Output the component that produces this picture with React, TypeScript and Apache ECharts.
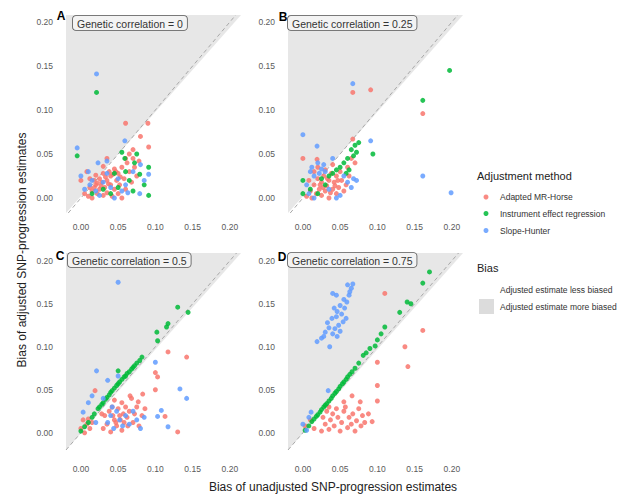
import React, { useEffect, useRef } from "react";
import * as echarts from "echarts";

const methods = ["Adapted MR-Horse", "Instrument effect regression", "Slope-Hunter"];
const methodColors = ["#F8766D", "#00BA38", "#619CFF"];
const panelLetters = ["A", "B", "C", "D"];
const panelTitles = [
  "Genetic correlation = 0",
  "Genetic correlation = 0.25",
  "Genetic correlation = 0.5",
  "Genetic correlation = 0.75",
];
const tickValues = [0, 0.05, 0.1, 0.15, 0.2];

// Panel A (genetic correlation = 0)
const horseA = [
  [0.005, 0.005], [0.01, 0.002], [0.012, 0.012], [0.015, 0.008], [0.018, 0.02], [0.02, 0.015],
  [0.022, 0.005], [0.025, 0.01], [0.025, 0.022], [0.028, 0.018], [0.03, 0.003], [0.03, 0.028],
  [0.032, 0.012], [0.035, 0.02], [0.035, 0.006], [0.038, 0.03], [0.04, 0.015], [0.04, 0.025],
  [0.042, 0.002], [0.045, 0.01], [0.045, 0.033], [0.048, 0.02], [0.05, 0.028], [0.05, 0.005],
  [0.052, 0.015], [0.055, 0.035], [0.058, 0.022], [0.06, 0.01], [0.062, 0.04], [0.065, 0.03],
  [0.068, 0.018], [0.07, 0.045], [0.072, 0.035], [0.075, 0.025], [0.078, 0.042], [0.08, 0.07],
  [0.06, 0.085], [0.09, 0.085], [0.091, 0.058], [0.035, 0.045], [0.0, 0.02], [0.008, 0.03],
  [0.015, 0.0], [0.055, 0.0], [0.065, 0.05], [0.018, 0.012], [0.022, 0.017], [0.027, 0.014],
  [0.033, 0.024], [0.037, 0.016], [0.043, 0.027], [0.047, 0.03], [0.053, 0.024], [0.02, 0.026],
  [0.012, 0.022], [0.03, 0.036], [0.06, 0.045], [0.07, 0.055],
];
const iverA = [
  [-0.005, 0.048], [0.021, 0.12], [0.091, 0.003], [0.091, 0.035], [0.079, 0.027], [0.059, 0.045],
  [0.072, 0.04], [0.065, 0.02], [0.06, 0.03], [0.05, 0.012], [0.04, 0.005], [0.085, 0.015],
  [0.07, 0.008], [0.045, 0.028], [0.055, 0.052], [0.03, 0.01], [0.015, 0.005], [0.075, 0.05],
];
const slopeA = [
  [0.021, 0.141], [-0.005, 0.057], [0.059, 0.065], [0.091, 0.027], [0.079, 0.005], [0.063, 0.006],
  [0.023, 0.04], [0.035, 0.042], [0.0, 0.025], [0.005, 0.01], [0.01, 0.03], [0.015, 0.02],
  [0.02, 0.008], [0.025, 0.003], [0.03, 0.018], [0.04, 0.012], [0.045, 0.0], [0.05, 0.022],
  [0.055, 0.008], [0.06, 0.015], [0.07, 0.03], [0.08, 0.038], [0.085, 0.02], [0.012, 0.015],
  [0.035, 0.028],
];

// Panel B (genetic correlation = 0.25)
const horseB = [
  [0.0, 0.045], [0.019, 0.044], [0.067, 0.12], [0.091, 0.123], [0.161, 0.096], [0.067, 0.067],
  [0.07, 0.04], [0.005, 0.002], [0.01, 0.008], [0.012, 0.0], [0.015, 0.015], [0.018, 0.005],
  [0.02, 0.022], [0.022, 0.01], [0.025, 0.003], [0.025, 0.018], [0.028, 0.025], [0.03, 0.008],
  [0.032, 0.014], [0.035, 0.02], [0.035, 0.0], [0.038, 0.028], [0.04, 0.01], [0.042, 0.018],
  [0.045, 0.005], [0.045, 0.025], [0.048, 0.012], [0.05, 0.03], [0.052, 0.02], [0.055, 0.008],
  [0.058, 0.015], [0.015, 0.03], [0.02, 0.035], [0.03, 0.032], [0.06, 0.035], [0.065, 0.045],
  [0.062, 0.025], [0.04, 0.038], [0.008, 0.02], [0.027, 0.012], [0.033, 0.022], [0.037, 0.006],
  [0.043, 0.014], [0.047, 0.02], [0.023, 0.015],
];
const iverB = [
  [0.0, 0.02], [0.0, 0.005], [0.094, 0.05], [0.161, 0.111], [0.197, 0.145], [0.065, 0.055],
  [0.07, 0.06], [0.075, 0.063], [0.068, 0.048], [0.072, 0.052], [0.06, 0.045], [0.055, 0.04],
  [0.05, 0.035], [0.045, 0.032], [0.04, 0.028], [0.035, 0.025], [0.01, 0.01], [0.02, 0.005],
  [0.03, 0.015], [0.025, 0.022], [0.058, 0.028], [0.062, 0.032],
];
const slopeB = [
  [0.0, 0.072], [0.019, 0.059], [0.067, 0.13], [0.161, 0.025], [0.199, 0.006], [0.091, 0.065],
  [0.072, 0.02], [0.01, 0.03], [0.012, 0.035], [0.015, 0.025], [0.02, 0.04], [0.022, 0.028],
  [0.025, 0.033], [0.005, 0.015], [0.008, 0.005], [0.015, 0.0], [0.03, 0.03], [0.035, 0.01],
  [0.045, 0.0], [0.05, 0.003], [0.055, 0.025], [0.06, 0.018], [0.065, 0.012], [0.068, 0.022],
  [0.04, 0.045], [0.028, 0.038],
];

// Panel C (genetic correlation = 0.5)
const horseC = [
  [0.0, 0.005], [0.003, 0.015], [0.005, 0.0], [0.008, 0.01], [0.01, 0.016], [0.012, 0.005],
  [0.015, 0.012], [0.019, 0.049], [0.028, 0.022], [0.03, 0.005], [0.032, 0.02], [0.035, 0.01],
  [0.038, 0.025], [0.04, 0.001], [0.042, 0.03], [0.045, 0.015], [0.048, 0.008], [0.05, 0.028],
  [0.052, 0.02], [0.055, 0.003], [0.058, 0.012], [0.06, 0.03], [0.062, 0.018], [0.065, 0.025],
  [0.068, 0.04], [0.07, 0.012], [0.072, 0.022], [0.075, 0.03], [0.078, 0.008], [0.082, 0.02],
  [0.086, 0.028], [0.083, 0.045], [0.066, 0.043], [0.077, 0.036], [0.103, 0.065], [0.1, 0.07],
  [0.1, 0.05], [0.117, 0.094], [0.142, 0.088], [0.13, 0.001], [0.113, 0.019], [0.045, 0.038],
  [0.055, 0.035], [0.043, 0.02], [0.047, 0.012], [0.053, 0.015], [0.057, 0.022], [0.063, 0.008],
];
const iverC = [
  [0.0, 0.002], [0.005, 0.007], [0.01, 0.012], [0.015, 0.018], [0.018, 0.022], [0.023, 0.028],
  [0.025, 0.03], [0.028, 0.033], [0.03, 0.035], [0.033, 0.039], [0.035, 0.041], [0.038, 0.044],
  [0.04, 0.047], [0.042, 0.049], [0.045, 0.052], [0.048, 0.055], [0.05, 0.057], [0.052, 0.059],
  [0.055, 0.062], [0.058, 0.065], [0.06, 0.066], [0.062, 0.069], [0.065, 0.071], [0.068, 0.074],
  [0.07, 0.076], [0.072, 0.078], [0.075, 0.081], [0.079, 0.084], [0.082, 0.088], [0.05, 0.072],
  [0.102, 0.117], [0.103, 0.107], [0.115, 0.123], [0.117, 0.127], [0.13, 0.146], [0.144, 0.14],
];
const slopeC = [
  [0.05, 0.175], [0.021, 0.072], [0.036, 0.061], [0.05, 0.066], [0.015, 0.043], [0.03, 0.04],
  [0.003, 0.024], [0.1, 0.082], [0.133, 0.051], [0.142, 0.04], [0.103, 0.019], [0.108, 0.026],
  [0.117, 0.007], [0.036, 0.012], [0.04, 0.02], [0.044, 0.005], [0.048, 0.025], [0.052, 0.015],
  [0.056, 0.008], [0.06, 0.02], [0.065, 0.01], [0.07, 0.025], [0.075, 0.015], [0.08, 0.005],
  [0.085, 0.018], [0.042, 0.03], [0.01, 0.035], [0.02, 0.012],
];

// Panel D (genetic correlation = 0.75)
const horseD = [
  [0.11, 0.162], [0.161, 0.119], [0.137, 0.1], [0.141, 0.077], [0.1, 0.082], [0.1, 0.055],
  [0.1, 0.037], [0.093, 0.013], [0.066, 0.043], [0.077, 0.036], [0.003, 0.008], [0.01, 0.015],
  [0.015, 0.005], [0.025, 0.002], [0.027, 0.018], [0.03, 0.01], [0.032, 0.025], [0.035, 0.004],
  [0.037, 0.015], [0.04, 0.022], [0.042, 0.008], [0.045, 0.028], [0.047, 0.018], [0.05, 0.002],
  [0.052, 0.012], [0.055, 0.025], [0.057, 0.03], [0.06, 0.006], [0.062, 0.018], [0.065, 0.01],
  [0.067, 0.022], [0.07, 0.002], [0.072, 0.014], [0.075, 0.028], [0.078, 0.008], [0.08, 0.02],
  [0.083, 0.012], [0.088, 0.022], [0.035, 0.03], [0.055, 0.036],
];
const iverD = [
  [0.003, 0.003], [0.008, 0.008], [0.012, 0.013], [0.015, 0.016], [0.018, 0.019], [0.02, 0.021],
  [0.023, 0.024], [0.025, 0.027], [0.028, 0.03], [0.03, 0.032], [0.032, 0.034], [0.035, 0.037],
  [0.038, 0.04], [0.04, 0.043], [0.043, 0.046], [0.045, 0.048], [0.048, 0.051], [0.05, 0.054],
  [0.053, 0.057], [0.055, 0.059], [0.058, 0.062], [0.06, 0.065], [0.063, 0.068], [0.066, 0.071],
  [0.07, 0.075], [0.075, 0.081], [0.081, 0.09], [0.085, 0.093], [0.09, 0.098], [0.097, 0.101],
  [0.1, 0.108], [0.105, 0.115], [0.11, 0.123], [0.13, 0.14], [0.14, 0.152], [0.145, 0.15],
  [0.161, 0.174], [0.17, 0.187],
];
const slopeD = [
  [0.067, 0.173], [0.065, 0.168], [0.062, 0.16], [0.06, 0.172], [0.04, 0.162], [0.045, 0.16],
  [0.063, 0.164], [0.059, 0.152], [0.055, 0.155], [0.05, 0.148], [0.046, 0.141], [0.052, 0.138],
  [0.039, 0.133], [0.045, 0.135], [0.054, 0.129], [0.058, 0.133], [0.043, 0.121], [0.048, 0.125],
  [0.03, 0.117], [0.035, 0.122], [0.04, 0.115], [0.019, 0.106], [0.025, 0.11], [0.036, 0.1],
  [0.046, 0.112], [0.05, 0.118], [0.033, 0.128], [0.042, 0.145], [0.056, 0.145], [0.028, 0.112],
  [0.034, 0.049], [0.011, 0.024], [0.0, 0.01], [0.005, 0.003], [0.008, 0.018],
];

const panelData = [
  [horseA, iverA, slopeA],
  [horseB, iverB, slopeB],
  [horseC, iverC, slopeC],
  [horseD, iverD, slopeD],
];

const xRange = [-0.02, 0.215];
const yRangeTop = [-0.017, 0.208];
const yRangeBottom = [-0.02, 0.209];

const FONT = "'Liberation Sans', Arial, Helvetica, sans-serif";

export default function App() {
  const ref = useRef<HTMLDivElement>(null);

  useEffect(() => {
    if (!ref.current) return;
    const chart = echarts.init(ref.current, null, { renderer: "svg" });

    const grids = [
      { left: 66, top: 15, width: 175, height: 198 },
      { left: 288, top: 15, width: 175, height: 198 },
      { left: 66, top: 253, width: 175, height: 197 },
      { left: 288, top: 253, width: 175, height: 197 },
    ];
    const yRanges = [yRangeTop, yRangeTop, yRangeBottom, yRangeBottom];

    const labelStyle = { color: "#5a5a5a", fontSize: 8.5, fontFamily: FONT };

    const xAxes = grids.map((_, i) => ({
      type: "value",
      gridIndex: i,
      min: xRange[0],
      max: xRange[1],
      axisLine: { show: false },
      axisTick: { show: false },
      splitLine: { show: false },
      axisLabel: {
        ...labelStyle,
        margin: i < 2 ? 9 : 14,
        customValues: tickValues,
        formatter: (v: number) => v.toFixed(2),
      },
    }));
    const yAxes = grids.map((_, i) => ({
      type: "value",
      gridIndex: i,
      min: yRanges[i][0],
      max: yRanges[i][1],
      axisLine: { show: false },
      axisTick: { show: false },
      splitLine: { show: false },
      axisLabel: {
        ...labelStyle,
        margin: 13,
        customValues: tickValues,
        formatter: (v: number) => v.toFixed(2),
      },
    }));

    const series: any[] = [];
    grids.forEach((_, i) => {
      const yr = yRanges[i];
      series.push({
        type: "custom",
        name: "Adjusted estimate more biased",
        xAxisIndex: i,
        yAxisIndex: i,
        silent: true,
        z: 0,
        clip: false,
        data: [[xRange[0], yr[0]]],
        renderItem: (_p: any, api: any) => {
          const p1 = api.coord([xRange[0], yr[0]]);
          const p2 = api.coord([xRange[1], yr[1]]);
          const p3 = api.coord([xRange[0], yr[1]]);
          return {
            type: "polygon",
            shape: { points: [p1, p2, p3] },
            style: { fill: "#e7e7e7" },
          };
        },
      });
      series.push({
        type: "line",
        xAxisIndex: i,
        yAxisIndex: i,
        silent: true,
        z: 1,
        symbol: "none",
        data: [
          [yr[0], yr[0]],
          [yr[1], yr[1]],
        ],
        lineStyle: { color: "#a8a8a8", width: 1, type: [4, 3] },
      });
      panelData[i].forEach((pts, m) => {
        series.push({
          type: "scatter",
          name: methods[m],
          xAxisIndex: i,
          yAxisIndex: i,
          z: 2,
          symbolSize: 5,
          data: pts,
          itemStyle: { color: methodColors[m], opacity: 0.85 },
        });
      });
    });

    const letterPos = [
      [61, 16],
      [283, 17],
      [60, 256],
      [282, 257],
    ];
    const stripPos = [
      [73, 16],
      [288, 16],
      [68, 253],
      [288, 253],
    ];

    const graphic: any[] = [];
    panelLetters.forEach((l, i) => {
      graphic.push({
        type: "text",
        x: letterPos[i][0],
        y: letterPos[i][1],
        z: 10,
        style: {
          text: l,
          fontSize: 12,
          fontWeight: "bold",
          fontFamily: FONT,
          fill: "#000",
          align: "center",
          verticalAlign: "middle",
        },
      });
      graphic.push({
        type: "text",
        x: stripPos[i][0],
        y: stripPos[i][1],
        z: 10,
        style: {
          text: panelTitles[i],
          fontSize: 10.5,
          fontFamily: FONT,
          fill: "#333",
          backgroundColor: "#f3f3f3",
          borderColor: "#555",
          borderWidth: 0.8,
          borderRadius: 3,
          padding: [2, 4, 1, 4],
        },
      });
    });

    // Axis titles
    graphic.push({
      type: "text",
      x: 22,
      y: 250,
      rotation: Math.PI / 2,
      style: {
        text: "Bias of adjusted SNP-progression estimates",
        fontSize: 12,
        fontFamily: FONT,
        fill: "#222",
        align: "center",
        verticalAlign: "middle",
      },
    });
    graphic.push({
      type: "text",
      x: 333,
      y: 487,
      style: {
        text: "Bias of unadjusted SNP-progression estimates",
        fontSize: 12,
        fontFamily: FONT,
        fill: "#222",
        align: "center",
        verticalAlign: "middle",
      },
    });

    // Legend: Adjustment method
    graphic.push({
      type: "text",
      x: 477,
      y: 176,
      style: {
        text: "Adjustment method",
        fontSize: 11,
        fontFamily: FONT,
        fill: "#222",
        verticalAlign: "middle",
      },
    });
    const legendY = [197, 213.5, 230.5];
    methods.forEach((m, k) => {
      graphic.push({
        type: "circle",
        shape: { cx: 486, cy: legendY[k], r: 2.5 },
        style: { fill: methodColors[k], opacity: 0.85 },
      });
      graphic.push({
        type: "text",
        x: 500,
        y: legendY[k],
        style: {
          text: m,
          fontSize: 8.5,
          fontFamily: FONT,
          fill: "#333",
          verticalAlign: "middle",
        },
      });
    });

    // Legend: Bias
    graphic.push({
      type: "text",
      x: 477,
      y: 268,
      style: {
        text: "Bias",
        fontSize: 11,
        fontFamily: FONT,
        fill: "#222",
        verticalAlign: "middle",
      },
    });
    graphic.push({
      type: "rect",
      shape: { x: 479, y: 282, width: 15, height: 15 },
      style: { fill: "#ffffff" },
    });
    graphic.push({
      type: "text",
      x: 500,
      y: 290,
      style: {
        text: "Adjusted estimate less biased",
        fontSize: 8.5,
        fontFamily: FONT,
        fill: "#333",
        verticalAlign: "middle",
      },
    });
    graphic.push({
      type: "rect",
      shape: { x: 479, y: 299, width: 15, height: 15 },
      style: { fill: "#dcdcdc" },
    });
    graphic.push({
      type: "text",
      x: 500,
      y: 307,
      style: {
        text: "Adjusted estimate more biased",
        fontSize: 8.5,
        fontFamily: FONT,
        fill: "#333",
        verticalAlign: "middle",
      },
    });

    chart.setOption({
      animation: false,
      backgroundColor: "#ffffff",
      grid: grids,
      xAxis: xAxes,
      yAxis: yAxes,
      series,
      graphic,
    });

    return () => chart.dispose();
  }, []);

  return (
    <div
      ref={ref}
      style={{ position: "absolute", left: 0, top: 0, width: 639, height: 499 }}
    />
  );
}
